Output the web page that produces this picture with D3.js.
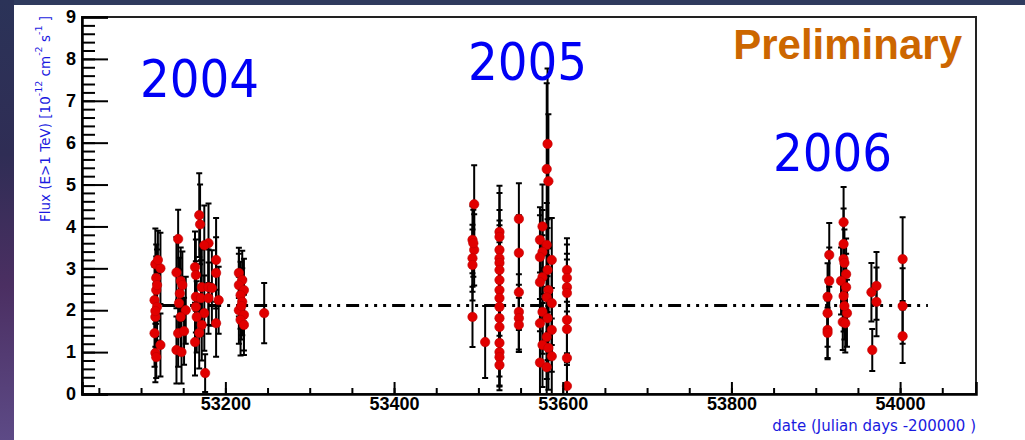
<!DOCTYPE html>
<html>
<head>
<meta charset="utf-8">
<script src="https://cdn.jsdelivr.net/npm/d3@7"></script>
<style>
    body { margin: 0; overflow: hidden; background: #fff; }
    svg { display: block; }
</style>
</head>
<body>
<svg id="lightcurve"></svg>
<script>
// ---- data (MJD, flux 1e-12 cm^-2 s^-1, error) ----
const days2004 = [53117, 53123, 53118, 53118, 53116, 53119, 53117, 53116, 53123, 53117, 53118, 53119, 53120, 53117,
    53144, 53142, 53147, 53145, 53153, 53144, 53151, 53142, 53148, 53147, 53146, 53149,
    53169, 53170, 53180, 53175, 53164, 53165, 53189, 53189, 53172, 53180, 53184, 53165, 53171, 53180, 53192,
    53165, 53175, 53166, 53189, 53172, 53169, 53164, 53176,
    53216, 53220, 53216, 53222, 53218, 53220, 53216, 53222, 53218, 53222, 53219,
    53246];
const flux2004 = [3.1, 3.0, 2.77, 2.48, 2.24, 2.08, 1.84, 1.45, 1.17, 0.98, 0.88, 2.6, 3.2, 1.98,
    3.7, 2.9, 2.7, 2.17, 2.0, 1.45, 1.5, 1.05, 1.0, 1.84, 2.4, 2.6,
    4.27, 4.05, 3.6, 3.55, 3.03, 2.84, 3.2, 2.89, 2.55, 2.55, 2.53, 2.32, 2.29, 2.29, 2.24,
    2.08, 1.93, 1.84, 1.69, 1.65, 1.46, 1.24, 0.5,
    2.89, 2.72, 2.6, 2.48, 2.36, 2.2, 2.0, 1.89, 1.77, 1.65, 2.1,
    1.93];
const err2004 = [0.85, 0.85, 0.8, 0.8, 0.8, 0.8, 0.8, 0.8, 0.75, 0.7, 0.5, 0.85, 0.7, 0.85,
    0.7, 0.85, 0.8, 0.8, 0.8, 0.8, 0.8, 0.8, 0.75, 0.85, 0.85, 0.8,
    1.0, 0.95, 0.95, 0.95, 0.85, 0.85, 1.0, 0.85, 0.9, 0.9, 0.9, 0.85, 0.9, 0.85, 0.8,
    0.85, 0.9, 0.85, 0.8, 0.85, 0.85, 0.8, 0.45,
    0.6, 0.7, 0.75, 0.75, 0.8, 0.8, 0.8, 0.85, 0.85, 0.72, 0.8,
    0.72];

const days2005 = [53495, 53493, 53495, 53493, 53493, 53494, 53493,
    53508,
    53525, 53525, 53525, 53525, 53525, 53525, 53525, 53525, 53525, 53525, 53525, 53525, 53525, 53525, 53525, 53525,
    53548, 53548, 53548, 53548, 53548, 53548,
    53582, 53581, 53583, 53576, 53573, 53581, 53576, 53573, 53587, 53582, 53576, 53573, 53583, 53581, 53587,
    53576, 53582, 53573, 53587, 53581, 53576, 53583, 53587, 53573, 53581,
    53605, 53605, 53605, 53605, 53605, 53605, 53605, 53605];
const flux2005 = [4.53, 3.68, 3.44, 3.24, 3.08, 3.6, 1.84,
    1.24,
    3.87, 3.75, 3.44, 3.24, 3.13, 2.96, 2.72, 2.48, 2.29, 2.08, 1.81, 1.6, 1.22, 1.0, 0.88, 0.69,
    4.18, 3.37, 2.43, 1.96, 1.81, 1.65,
    5.97, 5.37, 5.08, 4.0, 3.68, 3.56, 3.39, 3.27, 3.2, 2.96, 2.79, 2.67, 2.48, 2.31, 2.17,
    1.96, 1.81, 1.69, 1.53, 1.36, 1.17, 1.1, 0.9, 0.75, 0.64,
    2.96, 2.77, 2.55, 2.41, 1.77, 1.55, 0.86, 0.19];
const err2005 = [0.93, 0.8, 0.85, 0.8, 0.85, 0.8, 0.72,
    0.86,
    1.1, 1.05, 0.95, 0.9, 0.9, 0.9, 0.9, 0.9, 0.9, 0.9, 0.85, 0.85, 0.8, 0.8, 0.7, 0.6,
    0.85, 0.9, 0.9, 0.9, 0.8, 0.65,
    1.8, 2.05, 1.6, 1.0, 0.78, 1.0, 1.0, 1.0, 1.0, 1.0, 1.0, 1.0, 1.0, 1.0, 1.0,
    1.0, 1.0, 1.0, 1.0, 1.0, 1.0, 1.0, 0.9, 0.75, 0.64,
    0.76, 0.8, 0.8, 0.8, 0.8, 0.8, 0.86, 0.5];

const days2006 = [53916, 53916, 53914, 53914, 53914, 53914,
    53933, 53933, 53933, 53934, 53936, 53930, 53936, 53933, 53937, 53932, 53935, 53934,
    53966, 53972, 53972, 53967,
    54003, 54003, 54003];
const flux2006 = [3.32, 2.7, 2.32, 1.93, 1.53, 1.46,
    4.1, 3.58, 3.22, 3.13, 2.86, 2.7, 2.55, 2.34, 1.93, 1.72, 1.69, 2.1,
    2.43, 2.58, 2.2, 1.05,
    3.22, 2.1, 1.38];
const err2006 = [0.76, 0.8, 0.8, 0.8, 0.7, 0.6,
    0.84, 0.85, 0.85, 0.8, 0.85, 0.8, 0.8, 0.85, 0.8, 0.67, 0.7, 0.8,
    0.7, 0.81, 0.82, 0.5,
    1.0, 0.9, 0.64];

// constant fit over the whole period
const meanFlux = 2.11;
const meanRange = [53125, 54033];

const yearLabels = ["2004", "2005", "2006"];
const yTicks = [0, 1, 2, 3, 4, 5, 6, 7, 8, 9];
const xTicks = [53200, 53400, 53600, 53800, 54000];

class LightCurve {

    margin = { top: 17, right: 49, bottom: 46, left: 82 }

    constructor(selector) {
        this.selector = selector;
        this.width = 1025;
        this.height = 440;
    }

    initialize() {
        this.svg = d3.select(this.selector)
            .attr("width", this.width)
            .attr("height", this.height);

        this.drawBackground();

        this.innerW = this.width - this.margin.left - this.margin.right;
        this.innerH = this.height - this.margin.top - this.margin.bottom;

        this.xScale = d3.scaleLinear().domain([53030, 54090]).range([0, this.innerW]);
        this.yScale = d3.scaleLinear().domain([0, 9]).range([this.innerH, 0]);

        this.svg.append("clipPath").attr("id", "plot-clip")
            .append("rect").attr("width", this.innerW).attr("height", this.innerH);

        this.container = this.svg.append("g")
            .attr("transform", `translate(${this.margin.left}, ${this.margin.top})`);

        this.update();
    }

    drawBackground() {
        const defs = this.svg.append("defs");
        const grad = defs.append("linearGradient").attr("id", "space")
            .attr("x1", 0).attr("y1", 0).attr("x2", 0).attr("y2", 1);
        grad.append("stop").attr("offset", "0%").attr("stop-color", "#2b3358");
        grad.append("stop").attr("offset", "35%").attr("stop-color", "#2f2d55");
        grad.append("stop").attr("offset", "65%").attr("stop-color", "#4b2f62");
        grad.append("stop").attr("offset", "100%").attr("stop-color", "#5d4a86");

        this.svg.append("rect").attr("width", this.width).attr("height", this.height).attr("fill", "#fff");
        this.svg.append("rect").attr("width", this.width).attr("height", 5).attr("fill", "#2f3b5e");
        this.svg.append("rect").attr("width", 14).attr("height", this.height).attr("fill", "url(#space)");
    }

    update() {
        const x = this.xScale, y = this.yScale;
        const series = [
            { days: days2004, flux: flux2004, err: err2004 },
            { days: days2005, flux: flux2005, err: err2005 },
            { days: days2006, flux: flux2006, err: err2006 }
        ];
        const points = series.flatMap(s => s.days.map((d, i) => ({ day: d, flux: s.flux[i], err: s.err[i] })));

        // mean flux line (dash-dot-dot-dot)
        this.container.append("line")
            .attr("x1", x(meanRange[0])).attr("x2", x(meanRange[1]))
            .attr("y1", y(meanFlux)).attr("y2", y(meanFlux))
            .attr("stroke", "#000")
            .attr("stroke-width", 3)
            .attr("stroke-dasharray", "13,6,3,6,3,6,3,6");

        const plot = this.container.append("g").attr("clip-path", "url(#plot-clip)");

        const bars = plot.append("g").attr("stroke", "#000").attr("stroke-width", 2);
        bars.selectAll("line.err")
            .data(points)
            .join("line")
            .attr("class", "err")
            .attr("x1", d => x(d.day)).attr("x2", d => x(d.day))
            .attr("y1", d => y(d.flux + d.err)).attr("y2", d => y(d.flux - d.err));
        bars.selectAll("path.cap")
            .data(points)
            .join("path")
            .attr("class", "cap")
            .attr("d", d => `M${x(d.day) - 3},${y(d.flux + d.err)}h6M${x(d.day) - 3},${y(d.flux - d.err)}h6`);

        plot.append("g").selectAll("circle")
            .data(points)
            .join("circle")
            .attr("cx", d => x(d.day))
            .attr("cy", d => y(d.flux))
            .attr("r", 4.7)
            .attr("fill", "#e10000")
            .attr("stroke", "#c00000")
            .attr("stroke-width", 0.6);

        // frame
        this.container.append("rect")
            .attr("width", this.innerW).attr("height", this.innerH)
            .attr("fill", "none").attr("stroke", "#222").attr("stroke-width", 2);

        // axes, ticks pointing inward like ROOT
        const labelFont = g => g.style("font-family", "'Liberation Sans', Arial, sans-serif")
            .style("font-size", "18px").style("font-weight", "bold").style("fill", "#000");

        this.container.append("g")
            .attr("transform", `translate(0, ${this.innerH})`)
            .call(d3.axisBottom(x).tickValues(d3.range(53050, 54090, 50)).tickSize(-6).tickFormat(""))
            .call(g => g.select(".domain").remove())
            .call(g => g.selectAll("line").attr("stroke-width", 2));
        this.container.append("g")
            .attr("transform", `translate(0, ${this.innerH})`)
            .call(d3.axisBottom(x).tickValues(xTicks).tickSize(-12).tickPadding(3).tickFormat(d3.format("d")))
            .call(g => g.select(".domain").attr("stroke-width", 2.5))
            .call(g => g.selectAll("line").attr("stroke-width", 2))
            .call(g => g.selectAll("text").call(labelFont).attr("dy", "0.72em"));

        this.container.append("g")
            .call(d3.axisLeft(y).tickValues(d3.range(0.2, 9, 0.2)).tickSize(-13).tickFormat(""))
            .call(g => g.select(".domain").remove())
            .call(g => g.selectAll("line").attr("stroke-width", 2));
        this.container.append("g")
            .call(d3.axisLeft(y).tickValues(yTicks).tickSize(-26).tickPadding(6).tickFormat(d3.format("d")))
            .call(g => g.select(".domain").attr("stroke-width", 2.5))
            .call(g => g.selectAll("line").attr("stroke-width", 2))
            .call(g => g.selectAll("text").call(labelFont));

        // axis titles
        this.svg.append("text")
            .attr("x", this.margin.left + this.innerW)
            .attr("y", 431)
            .attr("text-anchor", "end")
            .style("font-family", "'DejaVu Sans', Verdana, sans-serif")
            .style("font-size", "15px")
            .style("fill", "#1a1ae0")
            .text("date (Julian days -200000 )");

        const yt = this.svg.append("text")
            .attr("transform", "translate(50, 16) rotate(-90)")
            .attr("text-anchor", "end")
            .style("font-family", "'DejaVu Sans', Verdana, sans-serif")
            .style("font-size", "13.5px")
            .style("fill", "#1a1ae0");
        yt.append("tspan").text("Flux (E>1 TeV) [10");
        yt.append("tspan").attr("dy", -8).style("font-size", "9.5px").text("-12");
        yt.append("tspan").attr("dy", 8).text(" cm");
        yt.append("tspan").attr("dy", -8).style("font-size", "9.5px").text("-2");
        yt.append("tspan").attr("dy", 8).text(" s");
        yt.append("tspan").attr("dy", -8).style("font-size", "9.5px").text("-1");
        yt.append("tspan").attr("dy", 8).text(" ]");

        // season labels
        const yearPos = [[140, 97], [468, 80], [773, 171]];
        this.svg.selectAll("text.year")
            .data(yearLabels)
            .join("text")
            .attr("class", "year")
            .attr("x", (d, i) => yearPos[i][0])
            .attr("y", (d, i) => yearPos[i][1])
            .style("font-family", "'DejaVu Sans', sans-serif")
            .style("font-stretch", "condensed")
            .style("font-size", "52px")
            .style("fill", "#0000f5")
            .text(d => d);

        this.svg.append("text")
            .attr("x", 962).attr("y", 59)
            .attr("text-anchor", "end")
            .style("font-family", "'Liberation Sans', Arial, sans-serif")
            .style("font-size", "42px")
            .style("font-weight", "bold")
            .style("fill", "#cc6600")
            .text("Preliminary");
    }
}

const chart = new LightCurve("#lightcurve");
chart.initialize();
</script>
</body>
</html>
